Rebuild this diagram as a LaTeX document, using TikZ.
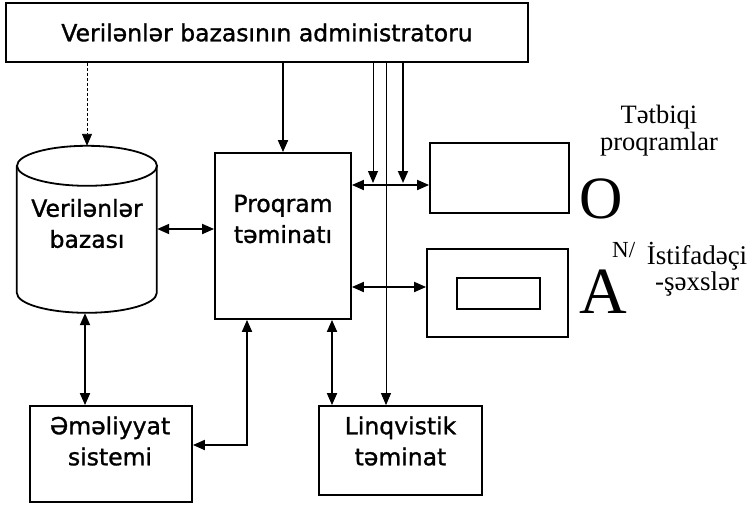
\documentclass[tikz,border=0pt]{standalone}
\usepackage{fontspec}
\setmainfont{Liberation Serif}
\newfontfamily\scanfont{DejaVu Sans}[FakeBold=1.2]
\usetikzlibrary{arrows.meta}

\begin{document}
\begin{tikzpicture}[x=1pt,y=-1pt,
 box/.style={draw,line width=1.8pt,inner sep=0pt},
 boxtext/.style={font=\scanfont\fontsize{23.5}{31}\selectfont,align=center,inner sep=0pt},
 sidetext/.style={font=\fontsize{26.5}{27}\selectfont,align=center,inner sep=0pt},
 link/.style={line width=1.8pt},
 thinlink/.style={line width=0.9pt},
 >={Triangle[length=12pt,width=10pt]}]
\useasboundingbox (0,0) rectangle (755,504);
% blocks
\node[box,minimum width=522pt,minimum height=59pt,font=\scanfont\fontsize{23.5}{28}\selectfont] (admin) at (267,32.5) {Verilənlər bazasının administratoru};
\node[minimum width=140pt,minimum height=167pt,inner sep=0pt] (db) at (87,229.5) {};
\draw[link] (db.north) ++(0,20) ellipse[x radius=70pt,y radius=20pt];
\draw[link] (db.north west) ++(0,20) -- ++(0,127) arc[start angle=180,end angle=360,x radius=70pt,y radius=20pt] -- ++(0,-127);
\node[boxtext] (dbtext) at (87,223.5) {Verilənlər\\bazası};
\node[box,minimum width=136pt,minimum height=166pt] (prog) at (283,236) {};
\node[boxtext] (progtext) at (283,219) {Proqram\\təminatı};
\node[box,minimum width=139pt,minimum height=70pt] (appl) at (499.5,178) {};
\node[box,minimum width=141pt,minimum height=88pt] (user) at (497.5,293) {};
\node[box,minimum width=83pt,minimum height=31pt] (screen) at (498.5,293.5) {};
\node[box,minimum width=162pt,minimum height=96pt] (os) at (111,454) {};
\node[boxtext] (ostext) at (110,441) {Əməliyyat\\sistemi};
\node[box,minimum width=163pt,minimum height=89pt] (ling) at (400.5,450.5) {};
\node[boxtext] (lingtext) at (400.5,441) {Linqvistik\\təminat};
% labels on the right
\node[sidetext] (appllabel) at (659,130.5) {Tətbiqi\\proqramlar};
\node[font=\fontsize{60}{60}\selectfont,inner sep=0pt,anchor=base west] (bigO) at (579,218) {O};
\node[font=\fontsize{23}{23}\selectfont,inner sep=0pt,anchor=base west] (nslash) at (612,257) {N/};
\node[font=\fontsize{66}{66}\selectfont,inner sep=0pt,anchor=base west] (bigA) at (579,313) {A};
\node[sidetext,font=\fontsize{27}{24}\selectfont] (userlabel) at (697,269) {İstifadəçi\\-şəxslər};
% connectors
\coordinate (k1) at (373,183);
\coordinate (k2) at (386,0);
\coordinate (k3) at (403,183);
\coordinate (k4) at (85,0);
\coordinate (k5) at (247,445);
\coordinate (k6) at (332,0);
\coordinate (k7) at (0,185);
\coordinate (k8) at (0,287);
\coordinate (k9) at (0,229);
\draw[thinlink,densely dashed,->] (admin.south -| db.north) -- (db.north);
\draw[link,->] (admin.south -| prog.north) -- (prog.north);
\draw[thinlink,->] (admin.south -| k1) -- (k1);
\draw[thinlink,->] (admin.south -| k2) -- (ling.north -| k2);
\draw[link,->] (admin.south -| k3) -- (k3);
\draw[link,<->] (prog.east |- k7) -- (appl.west |- k7);
\draw[link,<->] (prog.east |- k8) -- (user.west |- k8);
\draw[link,<->] (db.east |- k9) -- (prog.west |- k9);
\draw[link,<->] (db.south -| k4) -- (os.north -| k4);
\draw[link,<->] (prog.south -| k5) -- (k5) -- (os.east |- k5);
\draw[link,<->] (prog.south -| k6) -- (ling.north -| k6);
\end{tikzpicture}
\end{document}
